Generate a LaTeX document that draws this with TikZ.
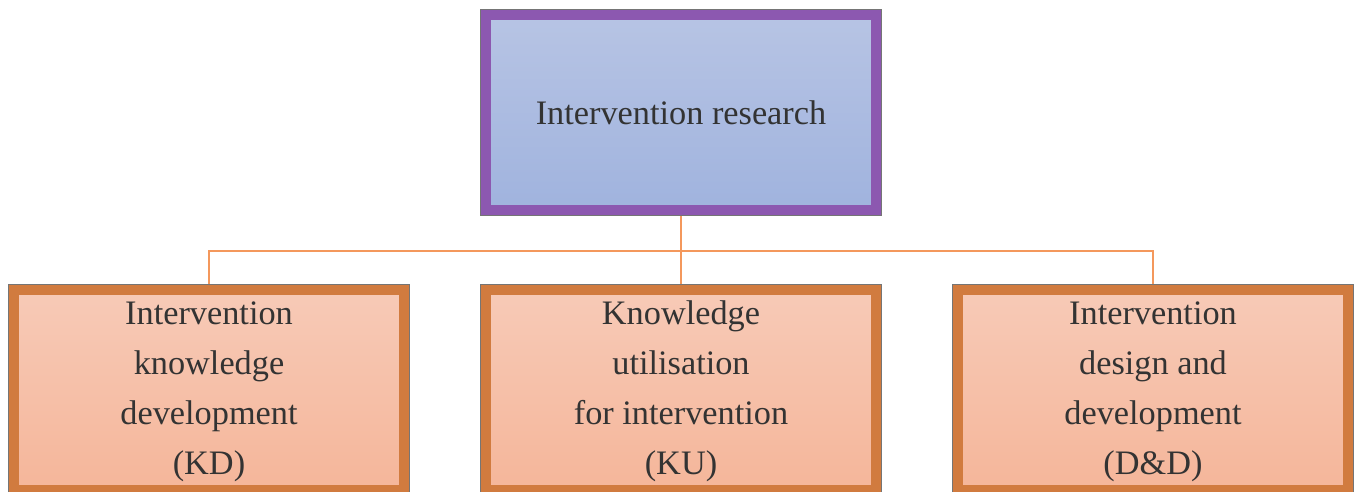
\documentclass[tikz,border=0pt]{standalone}
\usepackage{fontspec}
\setmainfont{Liberation Serif}
\definecolor{txtc}{HTML}{333333}
\definecolor{purpb}{HTML}{8C58B0}
\definecolor{blueT}{HTML}{B7C4E4}
\definecolor{blueB}{HTML}{A0B3DE}
\definecolor{orgb}{HTML}{D17B3F}
\definecolor{salT}{HTML}{F7CAB7}
\definecolor{salB}{HTML}{F5B69A}
\definecolor{connc}{HTML}{F4985C}
\definecolor{edgec}{HTML}{757575}
\begin{document}
\begin{tikzpicture}[x=1pt,y=-1pt,
  box/.style={rectangle, minimum width=390pt, minimum height=195pt, inner sep=0pt,
    line width=10pt, outer sep=6pt, align=center, text=txtc,
    font=\fontsize{34.3}{50}\selectfont,
    preaction={draw=edgec, line width=12pt}},
  topbox/.style={box, draw=purpb, top color=blueT, bottom color=blueB},
  subbox/.style={box, draw=orgb, top color=salT, bottom color=salB},
  conn/.style={draw=connc, line width=2.5pt}
]
\useasboundingbox (0,0) rectangle (1360,491);
\node[topbox] (top) at (681,112.5) {Intervention research};
\node[subbox] (kd) at (209,389.5) {\strut Intervention\\knowledge\\development\\(KD)\strut};
\node[subbox] (ku) at (681,389.5) {\strut Knowledge\\utilisation\\for intervention\\(KU)\strut};
\node[subbox] (dd) at (1153,389.5) {\strut Intervention\\design and\\development\\(D\&D)\strut};
\coordinate (j) at (681,251);
\draw[conn] (top.south) -- (j);
\draw[conn] (kd.north) |- (j) -| (dd.north);
\draw[conn] (j) -- (ku.north);
\end{tikzpicture}
\end{document}
